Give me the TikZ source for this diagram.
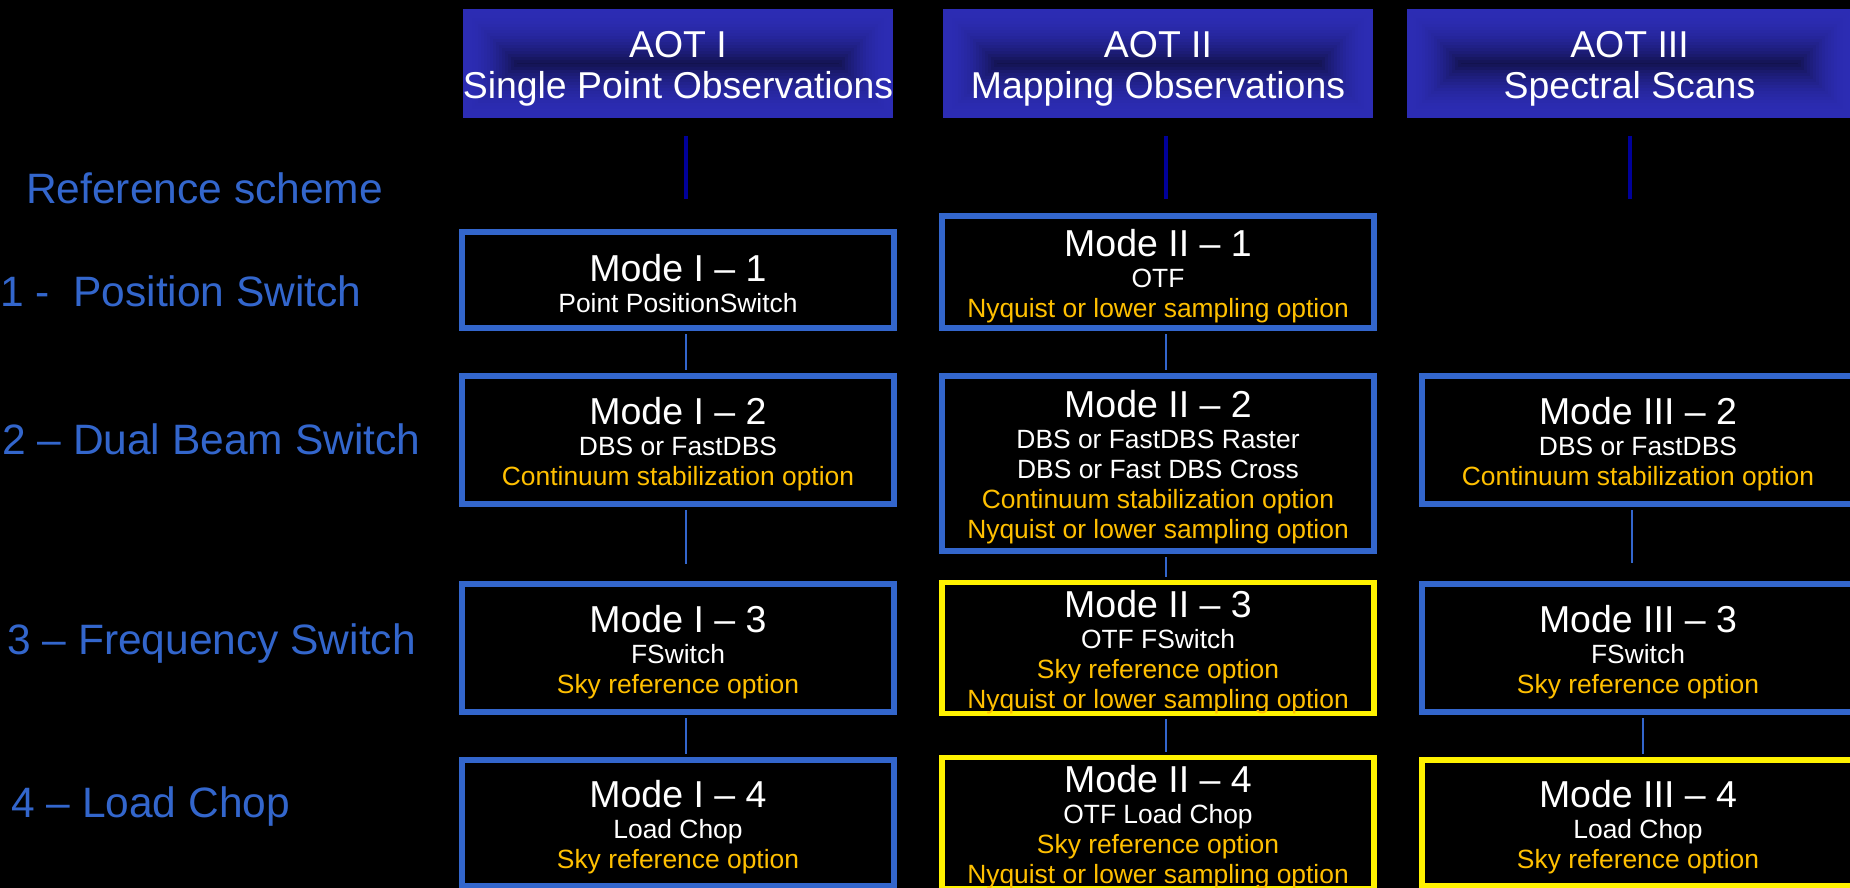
\documentclass[tikz,border=0pt]{standalone}
\usepackage{fontspec}
\setmainfont{Liberation Sans}
\usepackage{tikz}
\usetikzlibrary{positioning}
\definecolor{SchemeBlue}{RGB}{51,102,204}
\definecolor{OptOrange}{RGB}{255,192,0}
\definecolor{AotOuter}{RGB}{44,44,180}
\definecolor{AotInner}{RGB}{18,18,78}
\definecolor{AotLink}{RGB}{0,0,153}
\newcommand{\modetitle}{\fontsize{37.5}{30}\selectfont\rule{0pt}{35pt}}
\newcommand{\aottitle}{\rule{0pt}{37pt}}
\newcommand{\opt}[1]{\textcolor{OptOrange}{#1}}

\begin{document}
\begin{tikzpicture}[x=1pt,y=-1pt,
  aotbox/.style={minimum width=430pt,minimum height=109pt,inner sep=0pt,text=white,align=center,
    font=\fontsize{37.4}{41}\selectfont,
    path picture={\foreach \k [evaluate=\k as \mix using int(100-100*(\k/18)^2)] in {0,...,18}
      \fill[AotOuter!\mix!AotInner] ([shift={(3*\k,3*\k)}]path picture bounding box.north west)
        rectangle ([shift={(-3*\k,-3*\k)}]path picture bounding box.south east);}},
  modebox/.style={draw=SchemeBlue,line width=6pt,fill=black,text=white,align=center,
    minimum width=432pt,inner sep=0pt,font=\fontsize{26.4}{30}\selectfont},
  newbox/.style={modebox,draw=yellow,line width=5.5pt},
  schemelabel/.style={anchor=base west,inner sep=0pt,text=SchemeBlue,font=\fontsize{42.5}{48}\selectfont},
  modelink/.style={draw=SchemeBlue,line width=2pt,shorten <=3pt,shorten >=3pt},
  aotlink/.style={draw=AotLink,line width=4pt}]
\useasboundingbox (0,0) rectangle (1850,888);
\clip (0,0) rectangle (1850,888);
\fill[black] (0,0) rectangle (1850,888);

% AOT headers
\node[aotbox] (aot1) at (678,63.5) {\aottitle AOT I\\Single Point Observations};
\node[aotbox] (aot2) at (1158,63.5) {\aottitle AOT II\\Mapping Observations};
\node[aotbox,minimum width=445pt] (aot3) at (1629.5,63.5) {\aottitle AOT III\\Spectral Scans};

% reference schemes
\node[schemelabel] (refhead) at (26,204) {Reference scheme};
\node[schemelabel] (possw) at (0,306) {1 -\ \ Position Switch};
\node[schemelabel] (dbsw) at (2,454) {2 – Dual Beam Switch};
\node[schemelabel] (freqsw) at (7,654) {3 – Frequency Switch};
\node[schemelabel] (ldchop) at (11,817) {4 – Load Chop};

% AOT I
\node[modebox,minimum height=96pt] (m11) at (678,280) {{\modetitle Mode I – 1}\\[1pt]Point PositionSwitch};
\node[modebox,minimum height=128pt] (m12) at (678,440) {{\modetitle Mode I – 2}\\[1pt]DBS or FastDBS\\\opt{Continuum stabilization option}};
\node[modebox,minimum height=128pt] (m13) at (678,648) {{\modetitle Mode I – 3}\\[1pt]FSwitch\\\opt{Sky reference option}};
\node[modebox,minimum height=126pt] (m14) at (678,823) {{\modetitle Mode I – 4}\\[1pt]Load Chop\\\opt{Sky reference option}};

% AOT II
\node[modebox,minimum height=112pt] (m21) at (1158,272) {{\modetitle Mode II – 1}\\[1pt]OTF\\\opt{Nyquist or lower sampling option}};
\node[modebox,minimum height=175pt] (m22) at (1158,463.5) {{\modetitle Mode II – 2}\\[1pt]DBS or FastDBS Raster\\DBS or Fast DBS Cross\\\opt{Continuum stabilization option}\\\opt{Nyquist or lower sampling option}};
\node[newbox,minimum height=128pt] (m23) at (1158,648) {{\modetitle Mode II – 3}\\[1pt]OTF FSwitch\\\opt{Sky reference option}\\\opt{Nyquist or lower sampling option}};
\node[newbox,minimum height=126pt] (m24) at (1158,823) {{\modetitle Mode II – 4}\\[1pt]OTF Load Chop\\\opt{Sky reference option}\\\opt{Nyquist or lower sampling option}};

% AOT III
\node[modebox,minimum height=128pt] (m32) at (1638,440) {{\modetitle Mode III – 2}\\[1pt]DBS or FastDBS\\\opt{Continuum stabilization option}};
\node[modebox,minimum height=128pt] (m33) at (1638,648) {{\modetitle Mode III – 3}\\[1pt]FSwitch\\\opt{Sky reference option}};
\node[newbox,minimum height=126pt] (m34) at (1638,823) {{\modetitle Mode III – 4}\\[1pt]Load Chop\\\opt{Sky reference option}};

% links
\draw[aotlink] ([xshift=8pt]aot1.south) ++(0,18) -- ++(0,63);
\draw[aotlink] ([xshift=8pt]aot2.south) ++(0,18) -- ++(0,63);
\draw[aotlink] (aot3.south) ++(0,18) -- ++(0,63);
\draw[modelink] ([xshift=8pt]m11.south) -- ([xshift=8pt]m12.north);
\draw[modelink,shorten >=17pt] ([xshift=8pt]m12.south) -- ([xshift=8pt]m13.north);
\draw[modelink] ([xshift=8pt]m13.south) -- ([xshift=8pt]m14.north);
\draw[modelink] ([xshift=8pt]m21.south) -- ([xshift=8pt]m22.north);
\draw[modelink] ([xshift=8pt]m22.south) -- ([xshift=8pt]m23.north);
\draw[modelink] ([xshift=8pt]m23.south) -- ([xshift=8pt]m24.north);
\draw[modelink,shorten >=18pt] ([xshift=-6pt]m32.south) -- ([xshift=-6pt]m33.north);
\draw[modelink] ([xshift=5pt]m33.south) -- ([xshift=5pt]m34.north);
\end{tikzpicture}
\end{document}
